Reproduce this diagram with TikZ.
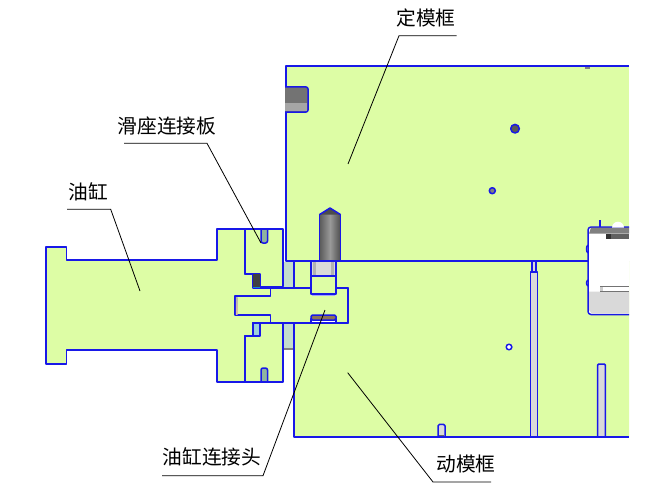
\documentclass[tikz,border=0pt]{standalone}
\usepackage{fontspec}
\setmainfont{Noto Sans CJK SC}
\definecolor{partgreen}{HTML}{DDFDA5}
\definecolor{edgeblue}{HTML}{1818E8}
\definecolor{slotgray}{HTML}{D9D9D9}
\definecolor{gapgreen}{HTML}{C3DDCC}
\definecolor{slitgreen}{HTML}{8FB4A0}
\definecolor{lensbrown}{HTML}{8C7258}
\tikzset{
	part/.style={draw=edgeblue, fill=partgreen, line width=1.5pt, line join=round},
	edge/.style={draw=edgeblue, line width=1.5pt, line join=round},
	leader/.style={draw=black, line width=0.8pt},
	caption/.style={font=\fontsize{19.7}{20}\selectfont, inner sep=0pt}
}

\begin{document}
\begin{tikzpicture}[x=1pt, y=-1pt]
		\useasboundingbox (0,0) rectangle (652,492);
		% frames
		\path[part] (629,66) -- (286,66) -- (286,261) -- (629,261);
		\path[part] (629,261) -- (294,261) -- (294,288) -- (348,288) -- (348,323) -- (294,323) -- (294,437) -- (629,437);
		\fill[gapgreen] (283,262) rectangle (293.3,288);
		\fill[gapgreen] (283,323) rectangle (293.3,349);
		\fill[black!50] (283,348) rectangle (293.3,349.5);
		% cylinder, plates and head
		\path[part] (46,247) -- (66.7,247) -- (66.7,260) -- (217,260) -- (217,229) -- (245,229) -- (245,274) -- (253,274) -- (253,288) -- (270.7,288) -- (270.7,323) -- (253,323) -- (253,336) -- (245,336) -- (245,382) -- (217,382) -- (217,350) -- (66.7,350) -- (66.7,364) -- (46,364) -- cycle;
		\path[part] (245,229) -- (283,229) -- (283,286.5) -- (260,286.5) -- (260,274) -- (245,274) -- cycle;
		\path[part] (253,323) -- (283,323) -- (283,382) -- (245,382) -- (245,336) -- (253,336) -- cycle;
		\fill[black!75] (253,274) rectangle (260,287);
		\fill[cyan!70!blue] (253,286.5) rectangle (260,288);
		\path[edge, fill=cyan!25!gapgreen] (253,323) rectangle (260,336);
		\path[part] (270.7,288) -- (348,288) -- (348,323) -- (270.7,323) -- (270.7,315) -- (235,315) -- (235,296) -- (270.7,296) -- cycle;
		\shade[top color=black!30, bottom color=brown!50] (235.8,297) rectangle (237.5,314);
		% slits of the plates
		\foreach \slitx/\slitA/\slitB in {261/229/243, 261/382/368}%
		{
			\path[edge, fill=slitgreen, rounded corners=2pt] (\slitx,\slitA) -- (\slitx,\slitB) -- ({\slitx+6.5},\slitB) -- ({\slitx+6.5},\slitA);
			\draw[edge] (245,\slitA) -- (283,\slitA);
		};
		% bolt
		\fill[partgreen] (311,262) rectangle (336,288);
		\shade[left color=black!65, right color=black!70, middle color=black!40] (319.3,214.7) rectangle (340.7,261);
		\path[edge, fill=black!70] (319.3,214.7) -- (330,208) -- (340.7,214.7);
		\draw[edge] (319.3,214.7) -- (319.3,261);
		\draw[edge] (340.7,214.7) -- (340.7,261);
		\fill[slotgray] (311,262) rectangle (336,276);
		\fill[black!30] (313,262) rectangle (316,276);
		\fill[black!30] (331,262) rectangle (334,276);
		\path[part] (311,276) rectangle (336,294);
		\draw[edge] (311,261) -- (311,276);
		\draw[edge] (336,261) -- (336,276);
		\draw[edge] (286,261) -- (588,261);
		\fill[blue!35] (312,294.7) rectangle (335,296);
		\path[edge, fill=white] (311,319) rectangle (336,323);
		\path[edge, fill=lensbrown, rounded corners=1.5pt] (311,315) rectangle (336,320);
		% pocket in the upper frame
		\path[edge, fill=black!55, rounded corners=2pt] (285.2,87) -- (308,87) -- (308,112) -- (285.2,112);
		\fill[black!55] (285.2,88) rectangle (290,111);
		\fill[black!35] (285.2,103) rectangle (307,111);
		% holes
		\foreach \holex/\holey/\holer/\holecol in {515/128.7/4.3/black!65, 492.3/190.7/3/black!50, 509/347/2.8/white}%
		{
			\path[edge, fill=\holecol] (\holex,\holey) circle[radius=\holer pt];
		};
		\fill[black!50] (585.3,67) rectangle (590.2,69);
		% slots of the lower frame
		\path[edge, fill=slotgray] (532,261) rectangle (536,272);
		\path[edge, fill=slotgray] (530.7,437) -- (530.7,272) -- (537.3,272) -- (537.3,437);
		\path[edge, fill=slotgray, rounded corners=1pt] (597.7,437) -- (597.7,364) -- (605.3,364) -- (605.3,437);
		\path[edge, fill=slotgray, rounded corners=1.5pt] (438,437) -- (438,424.3) -- (445,424.3) -- (445,437);
		\fill[black!60] (438.7,435) rectangle (444.3,436.5);
		\draw[edge] (294,437) -- (629,437);
		\draw[edge] (532,261) -- (536,261);
		% cavity at the right edge
		\path[edge, fill=white, rounded corners=3pt] (629,227) -- (588,227) -- (588,314.5) -- (629,314.5);
		\fill[black!50] (591,227.7) -- (629,227.7) -- (629,233.5) -- (589,233.5) -- cycle;
		\fill[black!62] (606,233.5) rectangle (629,239);
		\fill[black!80] (606,233.5) rectangle (611,239);
		\fill[white] (612,227.7) arc (180:360:6pt and -6pt) -- cycle;
		\fill[slotgray] (589,291.5) -- (629,291.5) -- (629,313.7) -- (592,313.7) -- (589,310) -- cycle;
		\fill[black!55] (600,286) rectangle (629,287);
		\fill[black!55] (600,290.5) rectangle (629,291.5);
		\fill[black!20] (600,287) rectangle (603,291);
		\draw[edge] (588,253) .. controls (586,252) and (586,246) .. (588,245);
		\draw[edge] (588,286) .. controls (586,285) and (586,281) .. (588,280);
		\draw[edge] (600,227) -- (600,220);
		% leaders and captions
		\foreach \name/\txt/\txtx/\txty/\lineA/\lineB/\liney/\tipx/\tipy in {%
			fixed/定模框/426/18/456.7/399/35.7/348/164,
			slide/滑座连接板/167/126/124/207/143.3/261/243,
			oil/油缸/88/192/67/110.7/209.3/140/291,
			head/油缸连接头/212/457/162/263/475.7/325/310,
			moving/动模框/466/464/491/433/482/347.7/372.7}%
		{
			\node[caption] (\name) at (\txtx,\txty) {\txt};
			\coordinate (\name far) at (\lineA,\liney);
			\coordinate (\name bend) at (\lineB,\liney);
			\coordinate (\name tip) at (\tipx,\tipy);
			\draw[leader] (\name far) -- (\name bend) -- (\name tip);
		};
	\end{tikzpicture}
\end{document}
